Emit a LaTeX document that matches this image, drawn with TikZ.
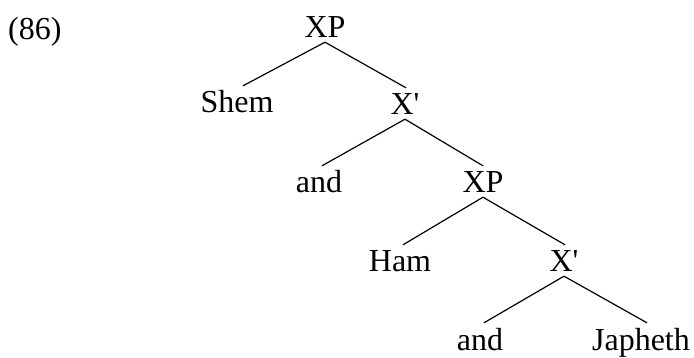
\documentclass[tikz,border=0pt]{standalone}
\usepackage{fontspec}
\setmainfont{Liberation Serif}
\begin{document}
\begin{tikzpicture}[x=1pt,y=-1pt,
  lbl/.style={anchor=base,inner xsep=0pt,inner ysep=4pt,text height=23pt,text depth=0pt,font=\fontsize{32}{38}\selectfont},
  edge/.style={line width=1.2pt}]
\useasboundingbox (0,0) rectangle (694,358);
\node[lbl,anchor=base west] (ex) at (8,40) {(86)};
\node[lbl] (xp1) at (325,38) {XP};
\node[lbl] (shem) at (237,113) {Shem};
\node[lbl] (xb1) at (405,115) {X\textquotesingle};
\node[lbl] (and1) at (319,193) {and};
\node[lbl] (xp2) at (483,193) {XP};
\node[lbl] (ham) at (400,272) {Ham};
\node[lbl] (xb2) at (564,272) {X\textquotesingle};
\node[lbl] (and2) at (480,350) {and};
\node[lbl] (jap) at (641,350) {Japheth};
\draw[edge] (xp1.south) -- ([xshift=6pt]shem.north);
\draw[edge] (xp1.south) -- ([xshift=1pt]xb1.north);
\draw[edge] (xb1.south) -- ([xshift=3pt]and1.north);
\draw[edge] (xb1.south) -- ([xshift=0pt]xp2.north);
\draw[edge] (xp2.south) -- ([xshift=3pt]ham.north);
\draw[edge] (xp2.south) -- ([xshift=1pt]xb2.north);
\draw[edge] (xb2.south) -- ([xshift=4pt]and2.north);
\draw[edge] (xb2.south) -- ([xshift=6pt]jap.north);
\end{tikzpicture}
\end{document}
